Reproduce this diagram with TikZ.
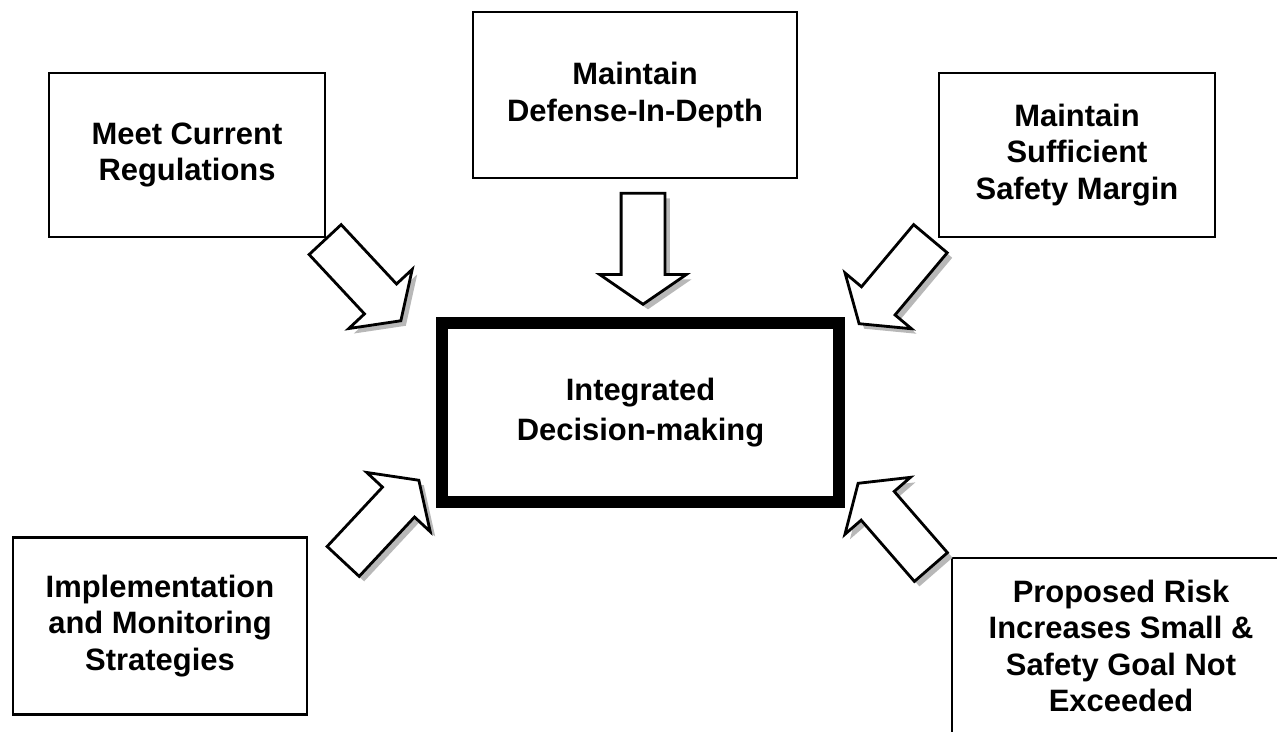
\documentclass[tikz,border=0pt]{standalone}
\usepackage{fontspec}
\setmainfont{Liberation Sans}
\usetikzlibrary{shapes.arrows,shadows,positioning}

\begin{document}
\begin{tikzpicture}[
    x=0.02cm, y=-0.02cm,
    box/.style={rectangle, draw, line width=1.6pt, align=center, inner sep=0pt,
        font=\fontsize{17.6}{20.8}\selectfont\bfseries},
    side/.style={box, minimum width=5.52cm, minimum height=3.28cm},
    core/.style={box, line width=6.8pt, minimum width=7.94cm, minimum height=3.58cm,
        font=\fontsize{17.6}{22.6}\selectfont\bfseries},
    blockarrow/.style={single arrow, draw, line width=1.6pt, fill=white,
        inner xsep=0pt, inner ysep=0.41cm, minimum height=2.22cm,
        single arrow head extend=0.43cm, single arrow tip angle=111, anchor=tip,
        drop shadow={shadow xshift=0.1cm, shadow yshift=-0.1cm, fill=black!28, opacity=1}}
]
    \clip (0,0) rectangle (1277,731);

    % Central decision box
    \node[core] (dec) at (640.5,412.5) {Integrated\\Decision-making};

    % Surrounding principles
    \node[side] (meet) at (187,155) {Meet Current\\Regulations};
    \node[side, minimum width=6.48cm, minimum height=3.32cm] (did) at (635,95) {Maintain\\Defense-In-Depth};
    \node[side] (margin) at (1077,155) {Maintain\\Sufficient\\Safety Margin};
    \node[side, minimum width=5.88cm, minimum height=3.54cm] (impl) at (160,626) {Implementation\\and Monitoring\\Strategies};
    \node[side, minimum width=6.76cm, minimum height=3.52cm] (risk) at (1121,646) {Proposed Risk\\Increases Small \&\\Safety Goal Not\\Exceeded};

    % Block arrows into the central box
    \node[blockarrow, rotate=-90] (a1) at (643,306) {};
    \node[blockarrow, rotate=-47] (a2) at (402,322) {};
    \node[blockarrow, rotate=230] (a3) at (858,325) {};
    \node[blockarrow, rotate=47] (a4) at (420,479) {};
    \node[blockarrow, rotate=131] (a5) at (857,482) {};
\end{tikzpicture}
\end{document}
